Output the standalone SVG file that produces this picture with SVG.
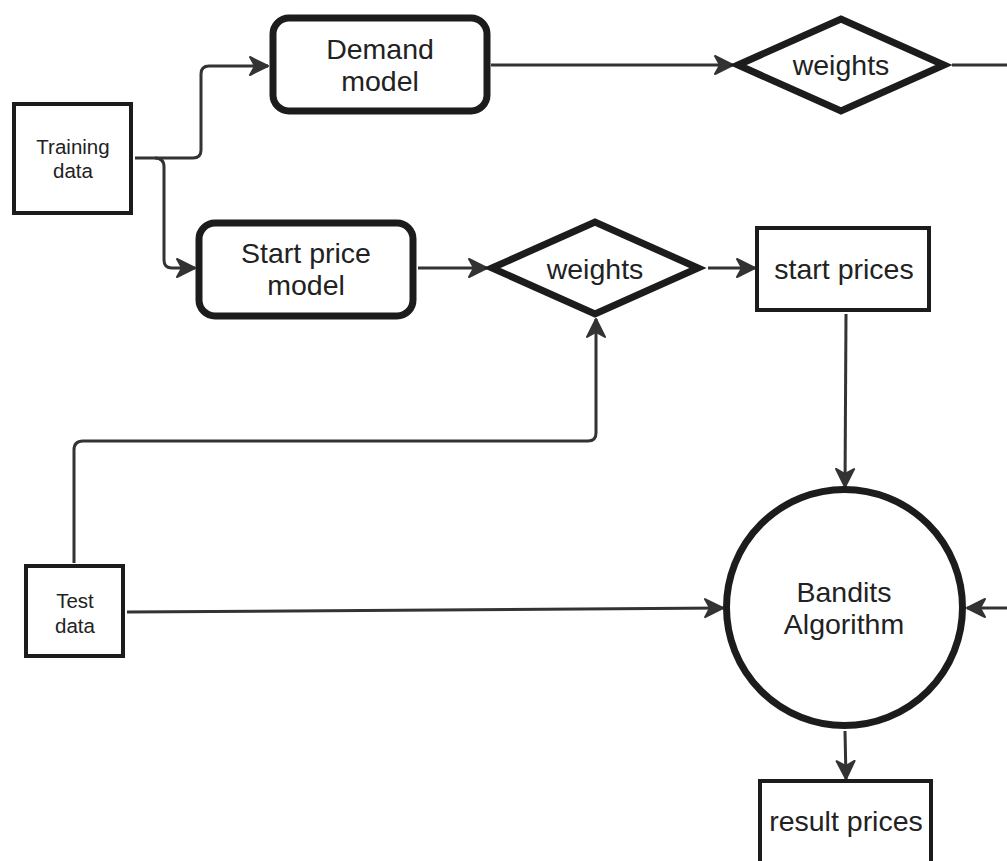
<svg xmlns="http://www.w3.org/2000/svg" width="1007" height="861" viewBox="0 0 1007 861">
<style>
.box{fill:#fff;stroke:#1c1c1c;stroke-width:4}
.thick{fill:#fff;stroke:#1c1c1c;stroke-width:7}
.t{font-family:"Liberation Sans",Arial,sans-serif;fill:#222;text-anchor:middle}
.s{font-size:20.5px}
.l{font-size:28.5px}
.c{fill:none;stroke:#333;stroke-width:3;marker-end:url(#ah)}
.cn{fill:none;stroke:#333;stroke-width:3}
</style>
<defs>
<marker id="ah" viewBox="0 0 20 22" refX="19" refY="11" markerWidth="20" markerHeight="22" markerUnits="userSpaceOnUse" orient="auto">
<path d="M1,2 L19,11 L1,20 L6,11 z" fill="#333" stroke="#333" stroke-width="2" stroke-linejoin="round"/>
</marker>
</defs>
<g id="connectors">
<path class="c" d="M135,158 H193 Q201,158 201,150 V74 Q201,66 209,66 H268"/>
<path class="c" d="M155,158 Q164,158 164,167 V260 Q164,268 172,268 H195"/>
<path class="c" d="M491,65 H733"/>
<path class="cn" d="M952,65 H1007"/>
<path class="c" d="M418,268 H487"/>
<path class="c" d="M708,268 H755"/>
<path class="c" d="M846,314 L845,487"/>
<path class="c" d="M74,563 V450 Q74,441 83,441 H588 Q596,441 596,433 V319"/>
<path class="c" d="M127,612 L723,608"/>
<path class="c" d="M1007,608 H967"/>
<path class="c" d="M845,731 L846,779"/>
</g>
<g id="training-data">
<rect class="box" x="14" y="104" width="117" height="109"/>
<text class="t s" x="73" y="154">Training</text>
<text class="t s" x="73" y="178">data</text>
</g>
<g id="demand-model">
<rect class="thick" x="273" y="18" width="214" height="93" rx="16"/>
<text class="t l" x="380" y="59">Demand</text>
<text class="t l" x="380" y="91">model</text>
</g>
<g id="start-price-model">
<rect class="thick" x="199" y="223" width="214" height="93" rx="16"/>
<text class="t l" x="306" y="263">Start price</text>
<text class="t l" x="306" y="295">model</text>
</g>
<g id="weights-top">
<polygon class="thick" points="738,65 841,19 944,65 841,111"/>
<text class="t l" x="841" y="75">weights</text>
</g>
<g id="weights-mid">
<polygon class="thick" points="492,268 595,222 698,268 595,314"/>
<text class="t l" x="595" y="279">weights</text>
</g>
<g id="start-prices">
<rect class="box" x="757" y="228" width="172" height="82"/>
<text class="t l" x="844" y="279">start prices</text>
</g>
<g id="test-data">
<rect class="box" x="26" y="566" width="97" height="90"/>
<text class="t s" x="75" y="608">Test</text>
<text class="t s" x="75" y="633">data</text>
</g>
<g id="bandits">
<circle class="thick" cx="844.5" cy="607.5" r="118"/>
<text class="t l" x="844" y="602">Bandits</text>
<text class="t l" x="844" y="634">Algorithm</text>
</g>
<g id="result-prices">
<rect class="box" x="760" y="781" width="171" height="90"/>
<text class="t l" x="846" y="831">result prices</text>
</g>
</svg>
